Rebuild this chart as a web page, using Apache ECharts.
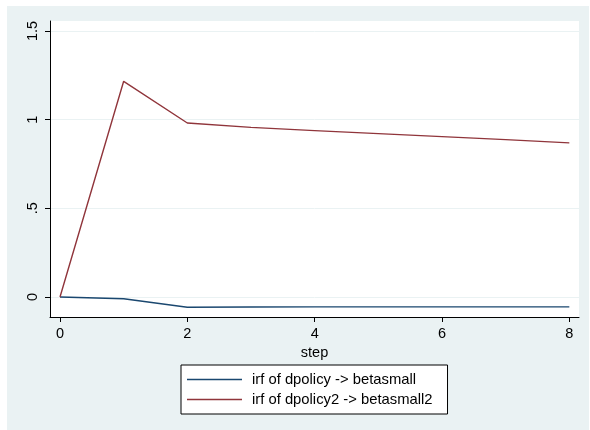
<!DOCTYPE html>
<html>
<head>
<meta charset="utf-8">
<script src="https://cdn.jsdelivr.net/npm/echarts@6/dist/echarts.min.js"></script>
<style>
  html, body { margin: 0; padding: 0; background: #ffffff; }
  #chart { width: 590px; height: 430px; }
</style>
</head>
<body>
<div id="chart"></div>
<script>
// Impulse-response steps
const steps = [0, 1, 2, 3, 4, 5, 6, 7, 8];
// irf of dpolicy -> betasmall
const irfSmall = [0, -0.010, -0.058, -0.057, -0.056, -0.056, -0.056, -0.056, -0.056];
// irf of dpolicy2 -> betasmall2
const irfSmall2 = [0, 1.216, 0.981, 0.956, 0.938, 0.921, 0.904, 0.887, 0.869];
// Axis tick values
const xTicks = [0, 2, 4, 6, 8];
const yTicks = [0, 0.5, 1, 1.5];
const seriesNames = ['irf of dpolicy -> betasmall', 'irf of dpolicy2 -> betasmall2'];

const font = '"Liberation Sans", Arial, Helvetica, sans-serif';
const chart = echarts.init(document.getElementById('chart'));

function pairs(vals) { return steps.map((s, i) => [s, vals[i]]); }
function yFmt(v) {
  if (Math.abs(v) < 1e-9) return '0';
  let s = String(Math.round(v * 10) / 10);
  return s.startsWith('0.') ? s.slice(1) : s;
}

chart.setOption({
  animation: false,
  backgroundColor: '#ffffff',
  graphic: [{
    type: 'rect', z: -10, silent: true,
    shape: { x: 7, y: 6, width: 582, height: 424 },
    style: { fill: '#eaf2f3' }
  }, {
    type: 'rect', z: -9, silent: true,
    shape: { x: 50, y: 21, width: 529, height: 296 },
    style: { fill: '#ffffff' }
  }],
  grid: { left: 50, top: 21, right: 11, bottom: 113, containLabel: false },
  xAxis: {
    type: 'value', min: -0.157, max: 8.152,
    name: 'step', nameLocation: 'middle', nameGap: 28,
    nameTextStyle: { color: '#000', fontSize: 14.5, fontFamily: font },
    axisLine: { show: true, onZero: false, lineStyle: { color: '#000', width: 1 } },
    axisTick: { show: true, length: 5, lineStyle: { color: '#000' }, customValues: xTicks },
    axisLabel: { color: '#000', fontSize: 14.5, fontFamily: font, margin: 9, customValues: xTicks },
    splitLine: { show: false }
  },
  yAxis: {
    type: 'value', min: -0.113, max: 1.556,
    axisLine: { show: true, onZero: false, lineStyle: { color: '#000', width: 1 } },
    axisTick: { show: true, length: 5, lineStyle: { color: '#000' }, customValues: yTicks },
    axisLabel: { color: '#000', fontSize: 14.5, fontFamily: font, margin: 10, rotate: 90,
                 customValues: yTicks, formatter: yFmt },
    splitLine: { show: true, lineStyle: { color: '#eaf2f3', width: 1 } }
  },
  legend: {
    orient: 'vertical', left: 181, top: 365,
    padding: [7, 15, 7, 6], itemGap: 5, itemWidth: 55, itemHeight: 14,
    backgroundColor: '#ffffff', borderColor: '#000', borderWidth: 1, borderRadius: 0,
    textStyle: { color: '#000', fontSize: 14.8, lineHeight: 14, fontFamily: font, padding: [0, 0, 0, 5] },
    data: seriesNames.map(n => ({ name: n, icon: 'path://M0,0 L100,0 L100,3 L0,3 Z' }))
  },
  series: [{
    name: seriesNames[0], type: 'line', data: pairs(irfSmall),
    showSymbol: false, symbol: 'none',
    lineStyle: { color: '#1a476f', width: 1.4 }, itemStyle: { color: '#1a476f' }
  }, {
    name: seriesNames[1], type: 'line', data: pairs(irfSmall2),
    showSymbol: false, symbol: 'none',
    lineStyle: { color: '#90353b', width: 1.4 }, itemStyle: { color: '#90353b' }
  }]
});
</script>
</body>
</html>
